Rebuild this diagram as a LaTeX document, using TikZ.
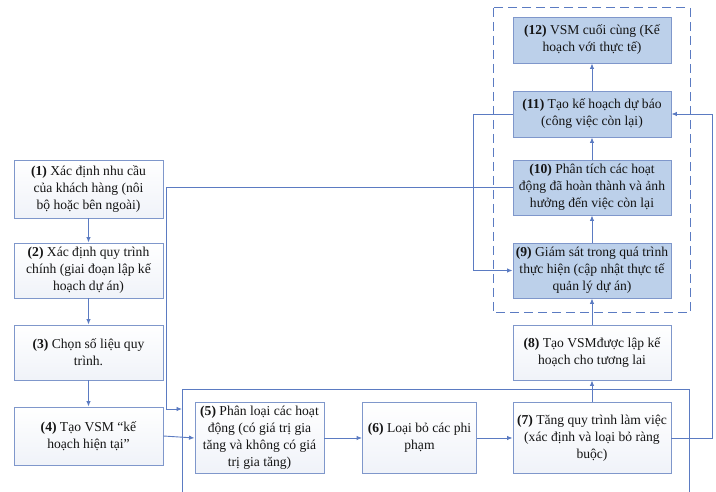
\documentclass[tikz,border=0pt]{standalone}
\usepackage{fontspec}
\setmainfont{Liberation Serif}
\usetikzlibrary{arrows.meta}
\definecolor{lineblue}{HTML}{5B7BC2}
\definecolor{boxedge}{HTML}{7F97CB}
\definecolor{boxfill}{HTML}{BCD0EA}
\definecolor{txt}{HTML}{141414}
\tikzset{
  base/.style={draw=boxedge, line width=0.9pt, align=center, text=txt,
    font=\fontsize{13.6}{17}\selectfont, inner sep=1pt},
  wbox/.style={base, top color=white, bottom color=white!88!boxedge},
  bbox/.style={base, fill=boxfill},
  conn/.style={draw=lineblue, line width=0.9pt},
  arr/.style={conn, -{Latex[length=5.5pt,width=4.5pt]}},
}
\begin{document}
\begin{tikzpicture}[x=1pt,y=-1pt]
\useasboundingbox (0,0) rectangle (716,492);
% dashed group
\draw[lineblue, dash pattern=on 9pt off 5pt, line width=1pt] (493,8) rectangle (690,313);
% big open rectangle
\draw[conn] (182,492) -- (182,389) -- (689,389) -- (689,492);
% left column
\node[wbox, minimum width=149pt, minimum height=58pt] (n1) at (88.5,189) {\textbf{(1)} Xác định nhu cầu\\của khách hàng (nôi\\bộ hoặc bên ngoài)};
\node[wbox, minimum width=149pt, minimum height=55pt] (n2) at (88.5,270.5) {\textbf{(2)} Xác định quy trình\\chính (giai đoạn lập kế\\hoạch dự án)};
\node[wbox, minimum width=149pt, minimum height=55pt] (n3) at (88.5,352.5) {\textbf{(3)} Chọn số liệu quy\\trình.};
\node[wbox, minimum width=149pt, minimum height=58pt] (n4) at (88.5,436) {\textbf{(4)} Tạo VSM “kế\\hoạch hiện tại”};
% bottom row
\node[wbox, minimum width=129pt, minimum height=71pt] (n5) at (259.5,438) {\textbf{(5)} Phân loại các hoạt\\động (có giá trị gia\\tăng và không có giá\\trị gia tăng)};
\node[wbox, minimum width=114pt, minimum height=71pt] (n6) at (419.5,438) {\textbf{(6)} Loại bỏ các phi\\phạm};
\node[wbox, minimum width=158pt, minimum height=71pt] (n7) at (592,438) {\textbf{(7)} Tăng quy trình làm việc\\(xác định và loại bỏ ràng\\buộc)};
% right column
\node[wbox, minimum width=158pt, minimum height=55pt] (n8) at (592,352.5) {\textbf{(8)} Tạo VSMđược lập kế\\hoạch cho tương lai};
\node[bbox, minimum width=158pt, minimum height=55pt] (n9) at (592,270.5) {\textbf{(9)} Giám sát trong quá trình\\thực hiện (cập nhật thực tế\\quản lý dự án)};
\node[bbox, minimum width=158pt, minimum height=55pt] (n10) at (592,187.5) {\textbf{(10)} Phân tích các hoạt\\động đã hoàn thành và ảnh\\hưởng đến việc còn lại};
\node[bbox, minimum width=158pt, minimum height=46pt] (n11) at (592,114) {\textbf{(11)} Tạo kế hoạch dự báo\\(công việc còn lại)};
\node[bbox, minimum width=158pt, minimum height=46pt] (n12) at (592,40) {\textbf{(12)} VSM cuối cùng (Kế\\hoạch với thực tế)};
% helper coordinates
\coordinate (fbtarget) at (182,409);
% straight arrows
\draw[arr] (n1) -- (n2);
\draw[arr] (n2) -- (n3);
\draw[arr] (n3) -- (n4);
\draw[arr] (n4.east) -- (n5.west);
\draw[arr] (n5) -- (n6);
\draw[arr] (n6) -- (n7);
\draw[arr] (n7.north) -- (n8.south);
\draw[arr] (n8) -- (n9);
\draw[arr] (n9) -- (n10);
\draw[arr] (n10) -- (n11);
\draw[arr] (n11) -- (n12);
% loops
\draw[arr] (n11.west) -- (473,114) -- (473,270.5) -- (n9.west);
\draw[arr] (n10.west) -- (166,187.5) -- (166,409) -- (fbtarget);
\draw[arr] (n7.east) -- (712,438) -- (712,114) -- (n11.east);
\end{tikzpicture}
\end{document}
